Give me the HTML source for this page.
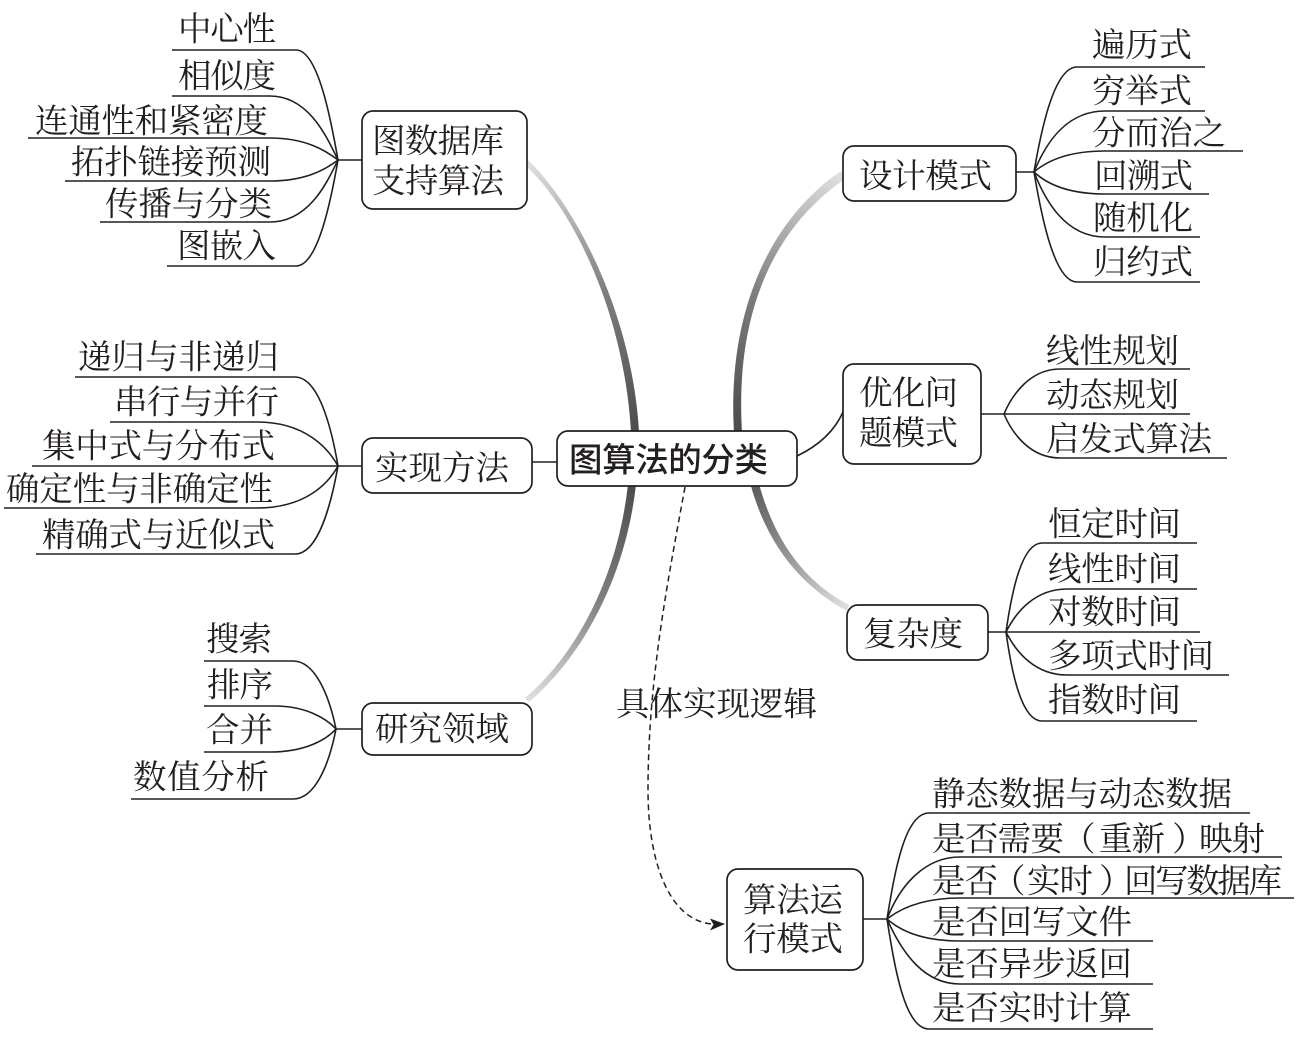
<!DOCTYPE html>
<html><head><meta charset="utf-8"><style>
html,body{margin:0;padding:0;background:#fff}
svg{display:block}
text{font-family:"Liberation Serif","Noto Serif CJK SC",serif;font-size:33.5px;fill:#231f20}
.l{fill:none;stroke:#231f20;stroke-width:1.6}
.b{fill:#fff;stroke:#231f20;stroke-width:1.7}
</style></head><body>
<svg width="1306" height="1046" viewBox="0 0 1306 1046" xmlns="http://www.w3.org/2000/svg">
<defs>
<linearGradient id="g1" gradientUnits="userSpaceOnUse" x1="527" y1="163" x2="635" y2="432"><stop offset="0" stop-color="#e0e0e0"/><stop offset=".5" stop-color="#808080"/><stop offset="1" stop-color="#4c4c4c"/></linearGradient>
<linearGradient id="g2" gradientUnits="userSpaceOnUse" x1="843" y1="175" x2="738" y2="432"><stop offset="0" stop-color="#e0e0e0"/><stop offset=".5" stop-color="#808080"/><stop offset="1" stop-color="#4c4c4c"/></linearGradient>
<linearGradient id="g3" gradientUnits="userSpaceOnUse" x1="527" y1="700" x2="632" y2="484"><stop offset="0" stop-color="#e0e0e0"/><stop offset=".5" stop-color="#808080"/><stop offset="1" stop-color="#4c4c4c"/></linearGradient>
<linearGradient id="g4" gradientUnits="userSpaceOnUse" x1="848" y1="608" x2="755" y2="485"><stop offset="0" stop-color="#e0e0e0"/><stop offset=".5" stop-color="#959595"/><stop offset="1" stop-color="#5c5c5c"/></linearGradient>
</defs>
<path fill="url(#g1)" d="M528 160C573 203 632 310 639 432L631 432C624 310 571 207 526 166Z"/>
<path fill="url(#g2)" d="M841 171C768 221 727 315 734 432L742 432C735 315 772 229 845 179Z"/>
<path fill="url(#g3)" d="M525 698C578 653 618 575 628 484L636 484C626 577 582 657 529 702Z"/>
<path fill="url(#g4)" d="M849 605C807 583 776 545 759 484L751 486C768 547 803 587 847 611Z"/>
<path class="l" d="M797 456C820 445 835 430 843 412"/>
<path class="l" d="M532 462H557M338 160H362M338 466H362M336 729H362M1016 172H1034M981 414H1004M988 632H1006M863 919H887"/>
<!-- left 1 -->
<path class="l" d="M172 50H296C318 50 331 120 338 160"/>
<path class="l" d="M172 96H270C310 96 328 140 338 160"/>
<path class="l" d="M28 138H270C305 138 325 150 338 160"/>
<path class="l" d="M65 181H270C305 181 325 170 338 160"/>
<path class="l" d="M100 222H270C310 222 328 180 338 160"/>
<path class="l" d="M167 266H296C318 266 331 200 338 160"/>
<!-- left 2 -->
<path class="l" d="M75 377H295C318 377 331 425 338 466"/>
<path class="l" d="M110 422H257C305 422 328 448 338 466"/>
<path class="l" d="M32 466H338"/>
<path class="l" d="M4 508H257C305 508 328 484 338 466"/>
<path class="l" d="M36 554H295C318 554 331 505 338 466"/>
<!-- left 3 -->
<path class="l" d="M204 661H293C315 661 329 695 336 729"/>
<path class="l" d="M204 706H275C305 706 326 718 336 729"/>
<path class="l" d="M204 752H270C305 752 326 740 336 729"/>
<path class="l" d="M131 799H293C315 799 329 765 336 729"/>
<!-- right 1 -->
<path class="l" d="M1205 67H1077C1055 67 1042 125 1034 172"/>
<path class="l" d="M1205 111H1105C1065 111 1045 145 1034 172"/>
<path class="l" d="M1243 151H1105C1070 151 1048 160 1034 172"/>
<path class="l" d="M1209 194H1105C1070 194 1048 185 1034 172"/>
<path class="l" d="M1200 237H1105C1065 237 1045 200 1034 172"/>
<path class="l" d="M1200 282H1077C1055 282 1042 220 1034 172"/>
<!-- right 2 -->
<path class="l" d="M1190 369H1060C1030 369 1012 395 1004 414"/>
<path class="l" d="M1190 414H1004"/>
<path class="l" d="M1227 458H1060C1030 458 1012 433 1004 414"/>
<!-- right 3 -->
<path class="l" d="M1197 543H1042C1022 543 1012 590 1006 632"/>
<path class="l" d="M1197 589H1067C1035 589 1016 612 1006 632"/>
<path class="l" d="M1200 632H1006"/>
<path class="l" d="M1229 675H1067C1035 675 1016 652 1006 632"/>
<path class="l" d="M1197 721H1042C1022 721 1012 675 1006 632"/>
<!-- bottom -->
<path class="l" d="M1250 813H929C905 813 895 870 887 919"/>
<path class="l" d="M1282 857H960C925 857 900 885 887 919"/>
<path class="l" d="M1294 898H960C930 898 905 905 887 919"/>
<path class="l" d="M1153 941H960C930 941 905 935 887 919"/>
<path class="l" d="M1153 984H960C925 984 903 955 887 919"/>
<path class="l" d="M1153 1029H929C905 1029 895 970 887 919"/>
<path d="M685 487C668 580 648 680 648 790C648 860 668 920 712 924" fill="none" stroke="#231f20" stroke-width="1.5" stroke-dasharray="6 4"/>
<path d="M725 924L710 918.5L713.5 924.5L710 930.5Z" fill="#231f20"/>
<rect class="b" x="362" y="111" width="165" height="98" rx="11"/>
<rect class="b" x="362" y="438" width="170" height="55" rx="11"/>
<rect class="b" x="362" y="703" width="170" height="52" rx="11"/>
<rect class="b" x="557" y="431" width="240" height="55" rx="11"/>
<rect class="b" x="843" y="146" width="173" height="55" rx="11"/>
<rect class="b" x="843" y="364" width="138" height="100" rx="11"/>
<rect class="b" x="847" y="605" width="141" height="55" rx="11"/>
<rect class="b" x="727" y="869" width="136" height="101" rx="11"/>
<g transform="translate(0,.5)">
<text x="178" y="40" textLength="98">中心性</text>
<text x="178" y="87" textLength="98">相似度</text>
<text x="35" y="132" textLength="233">连通性和紧密度</text>
<text x="71" y="173" textLength="200">拓扑链接预测</text>
<text x="105" y="215" textLength="167">传播与分类</text>
<text x="177" y="257" textLength="99">图嵌入</text>
<text x="78" y="368" textLength="201">递归与非递归</text>
<text x="114" y="413" textLength="165">串行与并行</text>
<text x="42" y="457" textLength="233">集中式与分布式</text>
<text x="6" y="500" textLength="267">确定性与非确定性</text>
<text x="42" y="546" textLength="233">精确式与近似式</text>
<text x="206" y="650" textLength="66">搜索</text>
<text x="207" y="696" textLength="66">排序</text>
<text x="206" y="741" textLength="67">合并</text>
<text x="133" y="788" textLength="136">数值分析</text>
<text x="372" y="152" textLength="132">图数据库</text>
<text x="372" y="192" textLength="132">支持算法</text>
<text x="375" y="479" textLength="134">实现方法</text>
<text x="375" y="740" textLength="134">研究领域</text>
<text x="569" y="471" textLength="199" style="font-family:'Liberation Sans','Noto Sans CJK SC',sans-serif;font-weight:500">图算法的分类</text>
<text x="859" y="187" textLength="133">设计模式</text>
<text x="859" y="404" textLength="99">优化问</text>
<text x="859" y="444" textLength="99">题模式</text>
<text x="863" y="645" textLength="100">复杂度</text>
<text x="743" y="911" textLength="100">算法运</text>
<text x="743" y="950" textLength="100">行模式</text>
<text x="1092" y="56" textLength="100">遍历式</text>
<text x="1092" y="102" textLength="100">穷举式</text>
<text x="1092" y="144" textLength="134">分而治之</text>
<text x="1094" y="187" textLength="99">回溯式</text>
<text x="1093" y="229" textLength="100">随机化</text>
<text x="1093" y="273" textLength="100">归约式</text>
<text x="1046" y="362" textLength="133">线性规划</text>
<text x="1046" y="406" textLength="133">动态规划</text>
<text x="1046" y="450" textLength="166">启发式算法</text>
<text x="1048" y="535" textLength="133">恒定时间</text>
<text x="1048" y="580" textLength="133">线性时间</text>
<text x="1048" y="623" textLength="133">对数时间</text>
<text x="1048" y="667" textLength="166">多项式时间</text>
<text x="1048" y="711" textLength="133">指数时间</text>
<text x="932" y="805" textLength="300">静态数据与动态数据</text>
<text x="932" y="850" textLength="132">是否需要</text>
<text x="1062" y="850">（</text>
<text x="1099" y="850" textLength="66">重新</text>
<text x="1172" y="850">）</text>
<text x="1199" y="850" textLength="66">映射</text>
<text x="932" y="892" textLength="66">是否</text>
<text x="992" y="892">（</text>
<text x="1027" y="892" textLength="66">实时</text>
<text x="1099" y="892">）</text>
<text x="1124" y="892" textLength="158">回写数据库</text>
<text x="932" y="933" textLength="200">是否回写文件</text>
<text x="932" y="975" textLength="200">是否异步返回</text>
<text x="932" y="1019" textLength="200">是否实时计算</text>
<text x="616" y="715" textLength="201">具体实现逻辑</text>
</g>
</svg>
</body></html>
